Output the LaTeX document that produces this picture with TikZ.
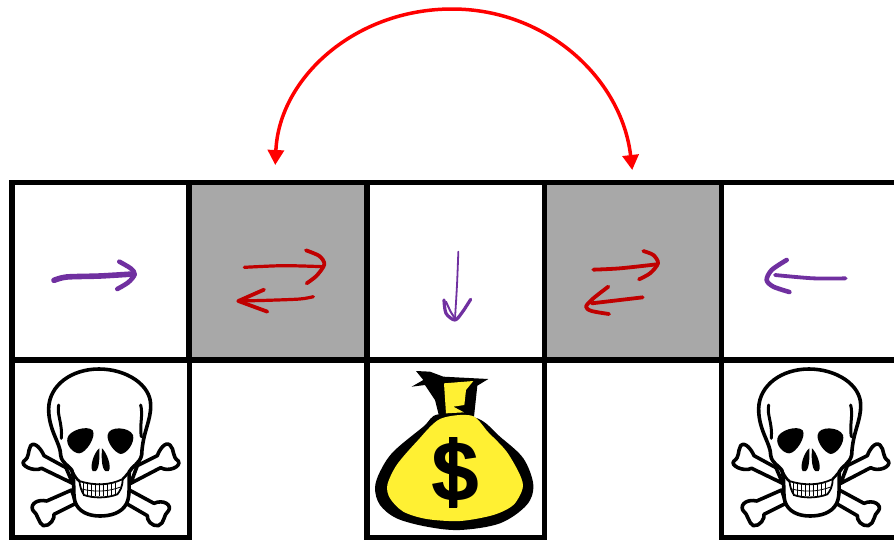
\documentclass[tikz,border=0pt]{standalone}
\usepackage{fontspec}
\usetikzlibrary{arrows.meta}
\setmainfont{Liberation Sans}
\definecolor{handpurple}{HTML}{7030A0}
\definecolor{handred}{HTML}{C00000}
\definecolor{cellgrey}{HTML}{A8A8A8}
\definecolor{bagyellow}{HTML}{FFF033}
\tikzset{
  cell/.style={draw=black,line width=5.5pt,inner sep=0pt,outer sep=0pt,minimum width=177.5pt,minimum height=177.5pt,fill=white},
  greycell/.style={cell,fill=cellgrey},
  topcell/.style={cell,minimum width=177.5pt},
  ink/.style={line cap=round,line join=round},
  zoomed/.style={x=0.33333pt,y=-0.33333pt},
  bone/.style={draw=black,fill=white,line width=3.6pt,line join=round},
  handp/.style={ink,draw=handpurple,line width=4.6pt},
  handr/.style={ink,draw=handred,line width=3.2pt},
  arcarrow/.style={draw=red,line width=3.5pt,{Triangle[length=15pt,width=16pt]}-{Triangle[length=15pt,width=16pt]}}
}
\newcommand{\skullart}{%
  \path[bone] (218,385) -- (125,340) .. controls (100,352) and (58,330) .. (72,318) .. controls (90,305) and (82,290) .. (92,272) .. controls (105,258) and (125,285) .. (132,302) -- (198,338) -- cycle;
  \path[bone] (392,385) -- (482,338) .. controls (505,352) and (545,335) .. (535,318) .. controls (515,305) and (525,285) .. (510,270) .. controls (495,258) and (478,285) .. (472,302) -- (412,332) -- cycle;
  \path[bone] (215,405) -- (140,438) .. controls (115,432) and (90,445) .. (98,465) .. controls (115,478) and (115,505) .. (130,512) .. controls (150,515) and (165,490) .. (162,478) -- (228,445) -- cycle;
  \path[bone] (388,405) -- (462,445) .. controls (490,432) and (518,450) .. (505,468) .. controls (490,478) and (495,505) .. (475,512) .. controls (455,515) and (440,495) .. (442,482) -- (378,445) -- cycle;
  \path[bone] (182,300) .. controls (182,265) and (145,225) .. (146,160) .. controls (148,90) and (215,42) .. (297,42) .. controls (380,42) and (452,90) .. (452,150) .. controls (453,200) and (428,230) .. (425,300) .. controls (420,325) and (395,335) .. (388,350) .. controls (385,380) and (392,420) .. (380,445) .. controls (365,475) and (330,483) .. (300,483) .. controls (265,483) and (235,470) .. (225,440) .. controls (218,415) and (225,370) .. (215,345) .. controls (205,330) and (185,325) .. (182,300) -- cycle;
  \draw[black,line width=3pt,ink] (176,150) .. controls (170,180) and (188,205) .. (184,250);
  \draw[black,line width=3pt,ink] (422,150) .. controls (430,180) and (418,210) .. (424,245);
  \fill[black] (202,250) .. controls (208,225) and (262,210) .. (278,226) .. controls (290,245) and (258,294) .. (238,295) .. controls (220,295) and (198,272) .. (202,250) -- cycle;
  \fill[black] (323,240) .. controls (326,212) and (388,215) .. (399,240) .. controls (405,262) and (382,296) .. (362,297) .. controls (345,294) and (320,262) .. (323,240) -- cycle;
  \fill[black] (298,280) .. controls (282,292) and (268,335) .. (278,348) .. controls (292,355) and (300,335) .. (298,280) -- cycle;
  \fill[black] (306,280) .. controls (320,292) and (336,335) .. (326,348) .. controls (312,355) and (302,335) .. (306,280) -- cycle;
  \draw[black,line width=1.8pt,fill=white] (238,378) .. controls (280,392) and (330,392) .. (368,372) .. controls (368,395) and (360,408) .. (352,418) .. controls (320,430) and (280,430) .. (252,420) .. controls (245,410) and (240,395) .. (238,378) -- cycle;
  \foreach \q in {250,262,274,286,298,310,322,334,346}{\draw[black,line width=0.8pt] (\q,385) -- (\q,424);}
  \draw[black,line width=0.8pt] (245,402) .. controls (285,412) and (325,410) .. (362,396);
  \draw[black,line width=2.6pt] (215,345) .. controls (225,365) and (232,375) .. (238,378);
  \draw[black,line width=2.6pt] (388,350) .. controls (378,360) and (374,368) .. (368,372);
}
\begin{document}
\begin{tikzpicture}[x=1pt,y=-1pt]
\useasboundingbox (0,0) rectangle (894,539);
\fill[white] (0,0) rectangle (894,539);
% top row
\node[topcell] (c1) at (100.75,271.25) {};
\node[greycell] (g1) at (277.75,271.25) {};
\node[topcell] (c3) at (455.5,271.25) {};
\node[greycell] (g2) at (633.25,271.25) {};
\node[topcell,minimum width=185pt] (c5) at (814,271.25) {};
% bottom row
\node[cell] (d1) at (100.75,448.75) {};
\node[cell] (d3) at (455.5,448.75) {};
\node[cell,minimum width=185pt] (d5) at (814,448.75) {};
% jump arc
\coordinate (t1) at ([xshift=-2.5pt,yshift=17.5pt]g1.north);
\coordinate (t2) at ([xshift=-1pt,yshift=12.5pt]g2.north);
\draw[arcarrow] (t1) .. controls (279,78) and (355,9) .. (452,9) .. controls (548,9) and (622,80) .. (t2);
% hand arrows, left half
\begin{scope}[shift={(0,175)},zoomed]
  \draw[handp,line width=5.6pt] plot[smooth] coordinates {(162,316) (200,306) (300,303) (398,297)};
  \draw[handp] plot[smooth] coordinates {(358,260) (392,280) (404,298) (385,322) (352,342)};
  \draw[handr] plot[smooth] coordinates {(733,277) (850,272) (968,275)};
  \draw[handr,line width=3.8pt] plot[smooth] coordinates {(918,226) (958,243) (973,268) (950,302) (920,325)};
  \draw[handr] plot[smooth] coordinates {(940,365) (900,372) (800,376) (715,378)};
  \draw[handr,line width=3.8pt] plot coordinates {(792,344) (715,378) (802,410)};
\end{scope}
% hand arrows, right half
\begin{scope}[shift={(420,175)},zoomed]
  \draw[handp,line width=1.8pt] plot[smooth] coordinates {(115,230) (111,330) (105,430)};
  \draw[handp,line width=3.2pt] plot[smooth] coordinates {(72,375) (78,415) (105,435) (128,410) (152,373)};
  \draw[handp,line width=2pt] plot[smooth] coordinates {(78,380) (92,410) (105,430)};
  \draw[handr,line width=3.8pt] plot[smooth] coordinates {(520,284) (600,280) (710,268)};
  \draw[handr,line width=3.8pt] plot[smooth] coordinates {(670,228) (700,240) (714,265) (690,295) (657,313)};
  \draw[handr,line width=3.8pt] plot[smooth] coordinates {(668,367) (600,375) (515,385)};
  \draw[handr,line width=3.8pt] plot[smooth] coordinates {(565,335) (520,370) (498,395) (515,408) (567,417)};
  \draw[handp,line width=3.8pt] plot[smooth] coordinates {(1277,310) (1180,310) (1065,300)};
  \draw[handp] plot[smooth] coordinates {(1100,255) (1055,285) (1040,315) (1060,335) (1108,351)};
\end{scope}
% skulls
\begin{scope}[shift={(0,355)},zoomed]\skullart\end{scope}
\begin{scope}[shift={(710,355)},zoomed]\skullart\end{scope}
% money bag
\begin{scope}[shift={(360,355)},zoomed]
  \fill[black] plot[smooth cycle,tension=0.55] coordinates {(235,178) (190,215) (100,290) (60,350) (45,400) (60,450) (110,490) (200,515) (300,525) (420,505) (500,450) (520,390) (490,310) (420,245) (352,190)};
  \fill[black] (168,48) -- (210,50) -- (250,65) -- (385,72) -- (352,92) -- (342,185) -- (240,195) -- (225,135) -- (195,90) -- (155,95) -- (190,75) -- cycle;
  \fill[bagyellow] plot[smooth cycle,tension=0.5] coordinates {(240,192) (335,182) (385,232) (440,290) (480,360) (488,400) (460,450) (400,480) (300,498) (200,492) (130,470) (90,430) (82,390) (110,330) (170,260)};
  \fill[bagyellow] (252,85) -- (340,78) -- (318,105) -- (313,150) -- (280,155) -- (312,172) -- (258,175) -- cycle;
  \fill[black] (267,245) rectangle (291,460);
  \node[inner sep=0pt,font=\fontsize{86}{86}\selectfont\bfseries] (dollar) at (285,352) {\$};
\end{scope}
\end{tikzpicture}
\end{document}
